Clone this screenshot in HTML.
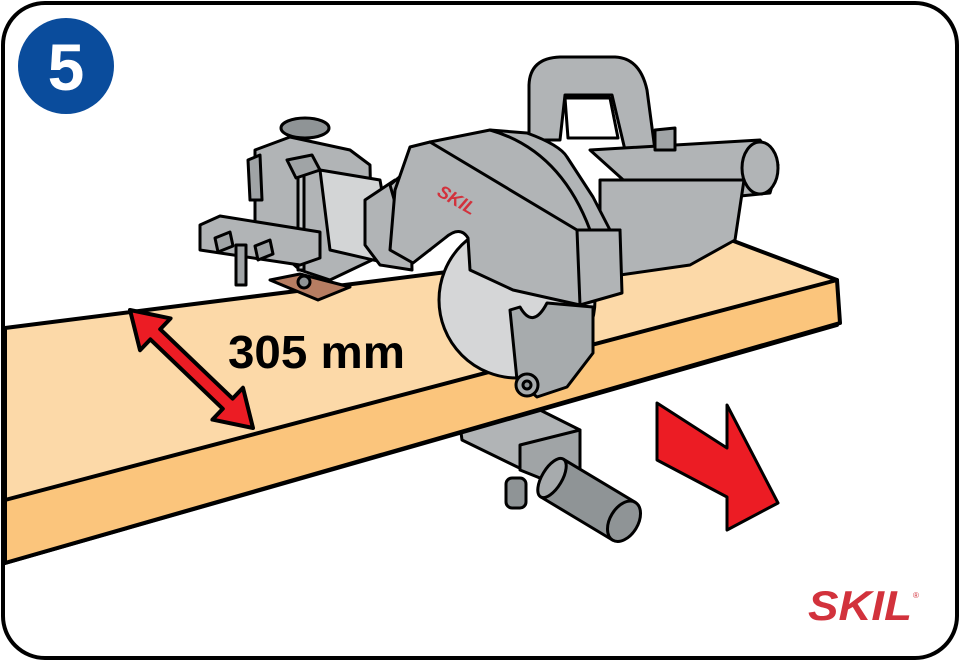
<!DOCTYPE html>
<html><head><meta charset="utf-8"><style>
html,body{margin:0;padding:0;background:#fff;width:960px;height:661px;overflow:hidden}
svg{display:block}
</style></head><body>
<svg width="960" height="661" viewBox="0 0 960 661" xmlns="http://www.w3.org/2000/svg" stroke-linejoin="round" stroke-linecap="round">
<rect x="3" y="3" width="954" height="655" rx="42" ry="42" fill="#fff" stroke="#000" stroke-width="4"/>
<circle cx="66" cy="66" r="48" fill="#0a4c9c"/>
<text x="66" y="90" font-family="Liberation Sans, sans-serif" font-weight="bold" font-size="66" fill="#fff" text-anchor="middle">5</text>

<!-- under-board clamp -->
<g stroke="#000" stroke-width="3">
<polygon points="460,425 520,400 580,430 580,470 540,478 462,440" fill="#b1b4b6"/>
<polygon points="520,445 580,430 580,470 540,478 520,470" fill="#a0a4a6"/>
<rect x="506" y="478" width="20" height="30" rx="6" fill="#8f9496"/>
<g transform="translate(552,478) rotate(31)">
<rect x="0" y="-22" width="84" height="44" fill="#8f9496"/>
<ellipse cx="84" cy="0" rx="14" ry="22" fill="#8f9496"/>
<ellipse cx="0" cy="0" rx="10" ry="22" fill="#a7abad"/>
</g>
</g>

<!-- board -->
<g stroke="#000" stroke-width="4">
<polygon points="5,328 723,237 837,280 837,325 5,563" fill="#fcd9a8"/>
<polygon points="5,500 837,280 840,323 5,563" fill="#fbc57c"/>
</g>

<!-- fence / clamp assembly left -->
<g stroke="#000" stroke-width="3">
<polygon points="255,150 290,137 350,150 370,165 372,260 330,280 300,270 255,230" fill="#b1b4b6"/>
<ellipse cx="305" cy="128" rx="24" ry="10" fill="#8f9496"/>
<polygon points="248,160 260,155 262,200 250,200" fill="#a0a4a6"/>
<rect x="298" y="170" width="6" height="100" fill="#c9cccd"/>
<polygon points="287,160 312,155 320,170 296,178" fill="#a0a4a6"/>
<polygon points="200,225 220,216 320,232 320,258 300,265 200,250" fill="#b1b4b6"/>
<rect x="236" y="245" width="10" height="40" fill="#a0a4a6"/>
<path d="M215,238 l15,-6 l3,14 l-15,6 Z" fill="#a0a4a6"/>
<path d="M255,246 l15,-6 l3,14 l-15,6 Z" fill="#a0a4a6"/>
<polygon points="320,170 380,180 395,265 330,250" fill="#d3d5d6"/>
<polygon points="270,280 300,274 350,287 318,300" fill="#b67d62"/>
<circle cx="304" cy="282" r="6" fill="#8f9496"/>
<polygon points="365,200 395,180 410,190 412,270 380,265 365,245" fill="#b1b4b6"/>
<polygon points="390,185 410,168 430,190 430,250 410,255" fill="#b1b4b6"/>
</g>

<!-- motor & handle -->
<g stroke="#000" stroke-width="3">
<path d="M529,140 L529,85 Q530,58 560,57 L615,57 Q640,58 647,90 L655,150 L625,150 L612,95 L565,95 L560,140 Z" fill="#b1b4b6"/>
<polygon points="565,98 610,98 618,138 568,138" fill="#fff"/>
<polygon points="590,150 760,140 778,165 770,193 700,200 640,195" fill="#b1b4b6"/>
<ellipse cx="760" cy="168" rx="18" ry="26" fill="#b1b4b6"/>
<path d="M600,180 L744,180 L735,240 L690,265 L620,275 L600,260 Z" fill="#b1b4b6"/>
<path d="M655,130 L675,128 L675,150 L655,150 Z" fill="#a0a4a6"/>
</g>

<!-- blade -->
<g stroke="#000" stroke-width="3">
<circle cx="517" cy="300" r="78" fill="#d5d6d7"/>
<path d="M510,310 L520,307 Q533,330 547,303 L593,307 L593,353 L567,387 L537,397 L517,380 Z" fill="#a7abad"/>
<circle cx="527" cy="385" r="11" fill="#a7abad"/>
<circle cx="527" cy="385" r="4" fill="#8f9496"/>
</g>

<!-- guard -->
<g stroke="#000" stroke-width="3">
<path d="M390,250 L395,190 L410,147 L430,142 L490,130 L527,133 Q560,145 567,157 L593,197 L610,230 L620,230 L622,293 L580,305 L513,290 L470,270 L468,238 Q460,225 445,238 L413,263 Z" fill="#b1b4b6"/>
<path d="M430,142 L577,230 L580,305" fill="none"/>
<path d="M577,230 L620,230" fill="none"/>
<path d="M490,130 Q560,150 590,230" fill="none"/>
</g>
<text x="436" y="195" font-family="Liberation Sans, sans-serif" font-weight="bold" font-style="italic" font-size="18" fill="#d2323c" transform="rotate(30 436 195)">SKIL</text>

<!-- double arrow -->
<polygon points="130,310 170.6,318.4 160.2,329.2 232.6,398.6 243,387.8 253,428 212.4,419.6 222.8,408.8 150.4,339.4 140,350.2" fill="#ec1c24" stroke="#000" stroke-width="4"/>

<text x="228" y="368" font-family="Liberation Sans, sans-serif" font-weight="bold" font-size="46" fill="#000" textLength="177" lengthAdjust="spacingAndGlyphs">305 mm</text>

<polygon points="657,403 727,448 727,405 778,503 727,530 727,497 657,460" fill="#ec1c24" stroke="#000" stroke-width="3"/>

<text x="808" y="620" font-family="Liberation Sans, sans-serif" font-weight="bold" font-style="italic" font-size="42" fill="#d2323c" textLength="104" lengthAdjust="spacingAndGlyphs">SKIL</text>
<text x="913" y="598" font-family="Liberation Sans, sans-serif" font-size="8" fill="#d2323c">®</text>
</svg>
</body></html>
